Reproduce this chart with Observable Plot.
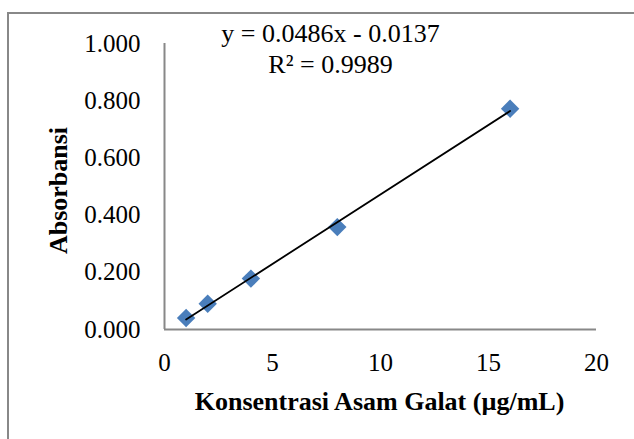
<!DOCTYPE html>
<html>
<head>
<meta charset="utf-8">
<script src="https://cdn.jsdelivr.net/npm/d3@7"></script>
<script src="https://cdn.jsdelivr.net/npm/@observablehq/plot@0.6"></script>
<style>
  html, body { margin: 0; padding: 0; background: #fff; }
  #wrap { position: relative; width: 634px; height: 439px; overflow: hidden; }
  #border { position: absolute; left: 7px; top: 12px; width: 700px; height: 500px;
            border-left: 2px solid #888; border-top: 2px solid #888; box-sizing: border-box; }
  #chart { position: absolute; left: 0; top: 0; }
  #chart svg text { font-family: 'Liberation Serif', 'Times New Roman', serif !important; font-variant: normal !important; font-variant-numeric: normal !important; }
</style>
</head>
<body>
<div id="wrap"><div id="border"></div><div id="chart"></div></div>
<script>
const concentrations = [1, 2, 4, 8, 16];
const absorbance = [0.040, 0.090, 0.178, 0.358, 0.772];
const xTicks = [0, 5, 10, 15, 20];
const yTicks = [0, 0.2, 0.4, 0.6, 0.8, 1.0];
const equationText = "y = 0.0486x - 0.0137\nR² = 0.9989";
const xTitle = "Konsentrasi Asam Galat (µg/mL)";
const yTitle = "Absorbansi";

const data = concentrations.map((c, i) => ({x: c, y: absorbance[i]}));
const serif = "'Liberation Serif', 'Times New Roman', serif";

const chart = Plot.plot({
  width: 634,
  height: 439,
  marginLeft: 164,
  marginRight: 38,
  marginTop: 43,
  marginBottom: 110,
  style: {fontFamily: serif, fontSize: "25px", color: "#000", background: "transparent"},
  x: {domain: [0, 20]},
  y: {domain: [0, 1]},
  marks: [
    Plot.axisX(xTicks, {tickSize: 0, tickPadding: 24, label: null, fontFamily: serif, fontVariant: "normal", fontSize: 25, fill: "#000"}),
    Plot.axisY(yTicks, {tickSize: 0, tickPadding: 24, label: null, tickFormat: d3.format(".3f"), fontFamily: serif, fontVariant: "normal", fontSize: 25, fill: "#000"}),
    Plot.ruleX([0], {stroke: "#888", strokeWidth: 2}),
    Plot.ruleY([0], {stroke: "#888", strokeWidth: 2}),
    Plot.dot(data, {x: "x", y: "y", symbol: "diamond2", r: 8.3, fill: "#4a7ebb", stroke: "none"}),
    Plot.linearRegressionY(data, {x: "x", y: "y", ci: 0, stroke: "#000", strokeWidth: 1.8}),
    Plot.text([equationText], {frameAnchor: "top", dx: -50, dy: -23, lineAnchor: "top", textAnchor: "middle",
      lineHeight: 1.19, fontSize: 26, fill: "#000", fontFamily: serif}),
    Plot.text([xTitle], {frameAnchor: "bottom", dx: -1, dy: 72, lineAnchor: "middle", textAnchor: "middle",
      fontSize: 26, fontWeight: "bold", fill: "#000", fontFamily: serif}),
    Plot.text([yTitle], {frameAnchor: "left", dx: -106, dy: 4, rotate: -90, lineAnchor: "middle", textAnchor: "middle",
      fontSize: 26, fontWeight: "bold", fill: "#000", fontFamily: serif})
  ]
});
document.getElementById("chart").appendChild(chart);
</script>
</body>
</html>
